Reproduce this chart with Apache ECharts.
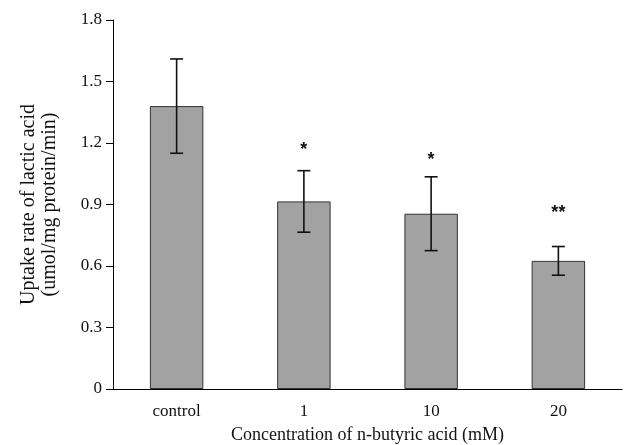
<!DOCTYPE html>
<html>
<head>
    <meta charset="utf-8">
    <title>Uptake rate of lactic acid</title>
    <script src="https://cdn.jsdelivr.net/npm/echarts@6/dist/echarts.min.js"></script>
    <style>
        body, html { margin: 0; padding: 0; width: 100%; height: 100%; overflow: hidden; background: #fff; }
        #main { width: 640px; height: 445px; }
    </style>
</head>
<body>
    <div id="main"></div>
    <script>
        // data
        const categories = ['control', '1', '10', '20'];
        const means = [1.38, 0.915, 0.855, 0.625];
        const errors = [0.23, 0.15, 0.18, 0.07];
        const marks = ['', '*', '*', '**'];
        const markLevel = [null, 1.165, 1.115, 0.86];

        const font = 'Liberation Serif';
        const myChart = echarts.init(document.getElementById('main'));

        const option = {
            backgroundColor: '#fff',
            animation: false,
            grid: { left: 113, right: 18, top: 20, bottom: 56, outerBoundsMode: 'none' },
            xAxis: {
                type: 'category',
                data: categories,
                name: 'Concentration of n-butyric acid (mM)',
                nameLocation: 'middle',
                nameGap: 37,
                nameTextStyle: { fontFamily: font, fontSize: 18, color: '#111' },
                axisLine: { lineStyle: { color: '#000', width: 1 } },
                axisTick: { length: 5, lineStyle: { color: '#000' } },
                axisLabel: { fontFamily: font, fontSize: 17, color: '#111', margin: 14 }
            },
            yAxis: {
                type: 'value',
                min: 0,
                max: 1.8,
                interval: 0.3,
                name: 'Uptake rate of lactic acid\n(umol/mg protein/min)',
                nameLocation: 'middle',
                nameGap: 53,
                nameTextStyle: { fontFamily: font, fontSize: 20, lineHeight: 21, color: '#111' },
                axisLine: { show: true, lineStyle: { color: '#000', width: 1 } },
                axisTick: { show: true, length: 7, lineStyle: { color: '#000' } },
                splitLine: { show: false },
                axisLabel: {
                    fontFamily: font, fontSize: 17, color: '#111', margin: 11,
                    formatter: v => v === 0 ? '0' : v.toFixed(1)
                }
            },
            series: [
                {
                    type: 'bar',
                    data: means,
                    barWidth: '42%',
                    itemStyle: { color: '#a2a2a2', borderColor: '#333', borderWidth: 1 }
                },
                {
                    type: 'custom',
                    data: categories.map((c, i) => [i, means[i] + errors[i], means[i] - errors[i]]),
                    z: 5,
                    renderItem: function (params, api) {
                        const top = api.coord([api.value(0), api.value(1)]);
                        const bot = api.coord([api.value(0), api.value(2)]);
                        const w = 6.5;
                        const st = { stroke: '#111', lineWidth: 1.6 };
                        return {
                            type: 'group',
                            children: [
                                { type: 'line', shape: { x1: top[0], y1: top[1], x2: bot[0], y2: bot[1] }, style: st },
                                { type: 'line', shape: { x1: top[0] - w, y1: top[1], x2: top[0] + w, y2: top[1] }, style: st },
                                { type: 'line', shape: { x1: bot[0] - w, y1: bot[1], x2: bot[0] + w, y2: bot[1] }, style: st }
                            ]
                        };
                    }
                },
                {
                    type: 'custom',
                    data: categories.map((c, i) => [i, markLevel[i] === null ? 0 : markLevel[i], i]),
                    z: 6,
                    renderItem: function (params, api) {
                        const i = api.value(2);
                        if (!marks[i]) return null;
                        const p = api.coord([api.value(0), api.value(1)]);
                        return {
                            type: 'text',
                            x: p[0],
                            y: p[1],
                            style: {
                                text: marks[i],
                                fontFamily: 'Liberation Sans',
                                fontWeight: 'bold',
                                fontSize: 18,
                                fill: '#111',
                                align: 'center',
                                verticalAlign: 'middle'
                            }
                        };
                    }
                }
            ]
        };

        myChart.setOption(option);
        window.addEventListener('resize', function () { myChart.resize(); });
    </script>
</body>
</html>
